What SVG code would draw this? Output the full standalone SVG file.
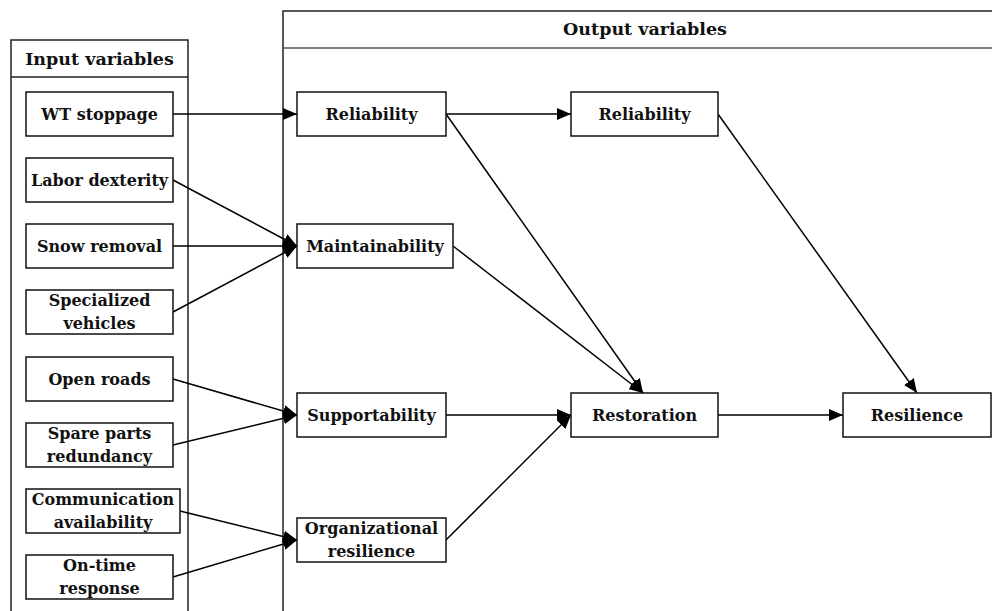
<svg xmlns="http://www.w3.org/2000/svg" width="992" height="611" viewBox="0 0 992 611">
  <defs>
    <marker id="arrow" markerUnits="userSpaceOnUse" markerWidth="14" markerHeight="12" refX="14" refY="6" orient="auto">
      <path d="M0,0 L14,6 L0,12 z" fill="#000"/>
    </marker>
    <style>
      .panel { fill: #fff; stroke: #222; stroke-width: 1.5; }
      .box { fill: #fff; stroke: #111; stroke-width: 1.5; }
      .lbl { font-family: "DejaVu Serif", "Liberation Serif", serif; font-weight: bold; font-size: 16px; fill: #111; text-anchor: middle; }
      .head { font-size: 17.5px; }
      .edge { fill: none; stroke: #000; stroke-width: 1.5; marker-end: url(#arrow); }
    </style>
  </defs>
  <rect width="992" height="611" fill="#fff"/>

  <!-- Input panel -->
  <g id="input-panel">
    <path class="panel" d="M11,612 L11,40 L188,40 L188,612"/>
    <line x1="11" y1="77" x2="188" y2="77" stroke="#222" stroke-width="1.5"/>
    <text class="lbl head" x="99.5" y="65">Input variables</text>
  </g>

  <!-- Output panel -->
  <g id="output-panel">
    <path class="panel" d="M283,612 L283,11 L993,11"/>
    <line x1="283" y1="48" x2="993" y2="48" stroke="#555" stroke-width="1.6"/>
    <text class="lbl head" x="645" y="35">Output variables</text>
  </g>

  <!-- Connectors -->
  <g id="connectors">
    <line class="edge" x1="173" y1="114" x2="297" y2="114"/>
    <line class="edge" x1="173" y1="180" x2="297" y2="246"/>
    <line class="edge" x1="173" y1="246" x2="297" y2="246"/>
    <line class="edge" x1="173" y1="312" x2="297" y2="246"/>
    <line class="edge" x1="173" y1="379" x2="297" y2="415"/>
    <line class="edge" x1="173" y1="445" x2="297" y2="415"/>
    <line class="edge" x1="180" y1="511" x2="297" y2="540"/>
    <line class="edge" x1="173" y1="577" x2="297" y2="540"/>
    <line class="edge" x1="446" y1="114" x2="571" y2="114"/>
    <line class="edge" x1="446" y1="114" x2="643" y2="393"/>
    <line class="edge" x1="453" y1="246" x2="643" y2="393"/>
    <line class="edge" x1="446" y1="415" x2="571" y2="415"/>
    <line class="edge" x1="446" y1="540" x2="571" y2="415"/>
    <line class="edge" x1="718" y1="415" x2="843" y2="415"/>
    <line class="edge" x1="718" y1="114" x2="917" y2="393"/>
  </g>

  <!-- Input variables -->
  <g id="wt-stoppage">
    <rect class="box" x="26" y="92" width="147" height="44"/>
    <text class="lbl" x="99.5" y="120">WT stoppage</text>
  </g>
  <g id="labor-dexterity">
    <rect class="box" x="26" y="158" width="147" height="44"/>
    <text class="lbl" x="99.5" y="186">Labor dexterity</text>
  </g>
  <g id="snow-removal">
    <rect class="box" x="26" y="224" width="147" height="44"/>
    <text class="lbl" x="99.5" y="252">Snow removal</text>
  </g>
  <g id="specialized-vehicles">
    <rect class="box" x="26" y="290" width="147" height="44"/>
    <text class="lbl" x="99.5" y="306">Specialized</text>
    <text class="lbl" x="99.5" y="329">vehicles</text>
  </g>
  <g id="open-roads">
    <rect class="box" x="26" y="357" width="147" height="44"/>
    <text class="lbl" x="99.5" y="385">Open roads</text>
  </g>
  <g id="spare-parts">
    <rect class="box" x="26" y="423" width="147" height="44"/>
    <text class="lbl" x="99.5" y="439">Spare parts</text>
    <text class="lbl" x="99.5" y="462">redundancy</text>
  </g>
  <g id="communication">
    <rect class="box" x="26" y="489" width="154" height="44"/>
    <text class="lbl" x="103" y="505">Communication</text>
    <text class="lbl" x="103" y="528">availability</text>
  </g>
  <g id="on-time-response">
    <rect class="box" x="26" y="555" width="147" height="44"/>
    <text class="lbl" x="99.5" y="571">On-time</text>
    <text class="lbl" x="99.5" y="594">response</text>
  </g>

  <!-- Output variables -->
  <g id="reliability">
    <rect class="box" x="297" y="92" width="149" height="44"/>
    <text class="lbl" x="371.5" y="120">Reliability</text>
  </g>
  <g id="maintainability">
    <rect class="box" x="297" y="224" width="156" height="44"/>
    <text class="lbl" x="375" y="252">Maintainability</text>
  </g>
  <g id="supportability">
    <rect class="box" x="297" y="393" width="149" height="44"/>
    <text class="lbl" x="371.5" y="421">Supportability</text>
  </g>
  <g id="organizational-resilience">
    <rect class="box" x="297" y="518" width="149" height="44"/>
    <text class="lbl" x="371.5" y="534">Organizational</text>
    <text class="lbl" x="371.5" y="557">resilience</text>
  </g>
  <g id="reliability-2">
    <rect class="box" x="571" y="92" width="147" height="44"/>
    <text class="lbl" x="644.5" y="120">Reliability</text>
  </g>
  <g id="restoration">
    <rect class="box" x="571" y="393" width="147" height="44"/>
    <text class="lbl" x="644.5" y="421">Restoration</text>
  </g>
  <g id="resilience">
    <rect class="box" x="843" y="393" width="148" height="44"/>
    <text class="lbl" x="917" y="421">Resilience</text>
  </g>
</svg>
